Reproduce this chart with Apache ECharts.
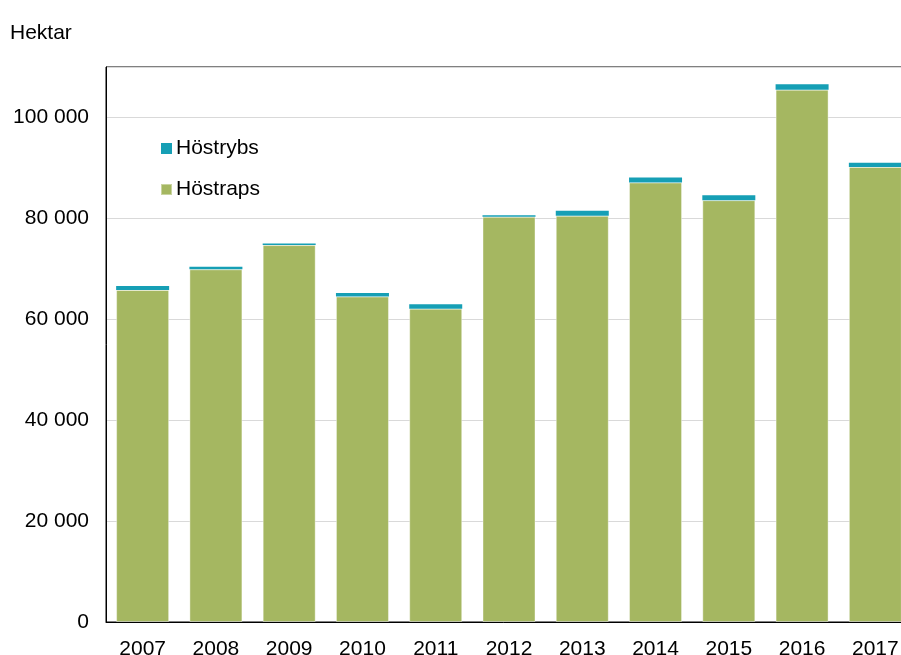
<!DOCTYPE html>
<html>
<head>
<meta charset="utf-8">
<script src="https://cdn.jsdelivr.net/npm/echarts@6/dist/echarts.min.js"></script>
<style>
html, body { margin: 0; padding: 0; background: #fff; }
#chart { width: 901px; height: 655px; }
</style>
</head>
<body>
<div id="chart"></div>
<script>
// år och arealer (hektar)
var years = ['2007', '2008', '2009', '2010', '2011', '2012', '2013', '2014', '2015', '2016', '2017'];
var hostraps = [65800, 69900, 74700, 64500, 62100, 80300, 80500, 87100, 83600, 105500, 90200];
var hostrybs = [800, 500, 300, 700, 900, 300, 1000, 1000, 1000, 1100, 800];

function fmt(v) {
    return String(v).replace(/\B(?=(\d{3})+(?!\d))/g, ' ');
}

var myChart = echarts.init(document.getElementById('chart'));
var font = 'Liberation Sans, Arial, sans-serif';

myChart.setOption({
    animation: false,
    textStyle: { fontFamily: font },
    title: {
        text: 'Hektar',
        left: 5,
        top: 18,
        textStyle: { fontSize: 21, fontWeight: 'normal', color: '#000', fontFamily: font }
    },
    legend: {
        data: ['Höstrybs', 'Höstraps'],
        orient: 'vertical',
        left: 155,
        top: 133,
        itemWidth: 11,
        itemHeight: 11,
        itemGap: 20,
        icon: 'rect',
        textStyle: { fontSize: 21, color: '#000', padding: [0, 0, 0, -1] }
    },
    grid: {
        left: 106,
        top: 67,
        bottom: 33,
        right: -11,
        outerBoundsMode: 'none',
        containLabel: false,
        show: true,
        borderColor: '#000',
        borderWidth: 1
    },
    xAxis: {
        type: 'category',
        data: years,
        axisLine: { lineStyle: { color: '#000' } },
        axisTick: { show: false },
        axisLabel: { fontSize: 21, color: '#000', margin: 17 }
    },
    yAxis: {
        type: 'value',
        min: 0,
        max: 110000,
        interval: 20000,
        axisLine: { show: true, lineStyle: { color: '#000' } },
        axisTick: { show: false },
        splitLine: { lineStyle: { color: '#d9d9d9' } },
        axisLabel: { fontSize: 21, color: '#000', margin: 17, showMaxLabel: false, formatter: fmt }
    },
    series: [
        {
            name: 'Höstraps',
            type: 'bar',
            stack: 'total',
            barWidth: 53,
            data: hostraps,
            itemStyle: { color: '#a5b761', borderColor: 'rgba(255,255,255,0.4)', borderWidth: 1 }
        },
        {
            name: 'Höstrybs',
            type: 'bar',
            stack: 'total',
            barWidth: 53,
            data: hostrybs,
            itemStyle: { color: '#169fb5' }
        }
    ]
});
</script>
</body>
</html>
